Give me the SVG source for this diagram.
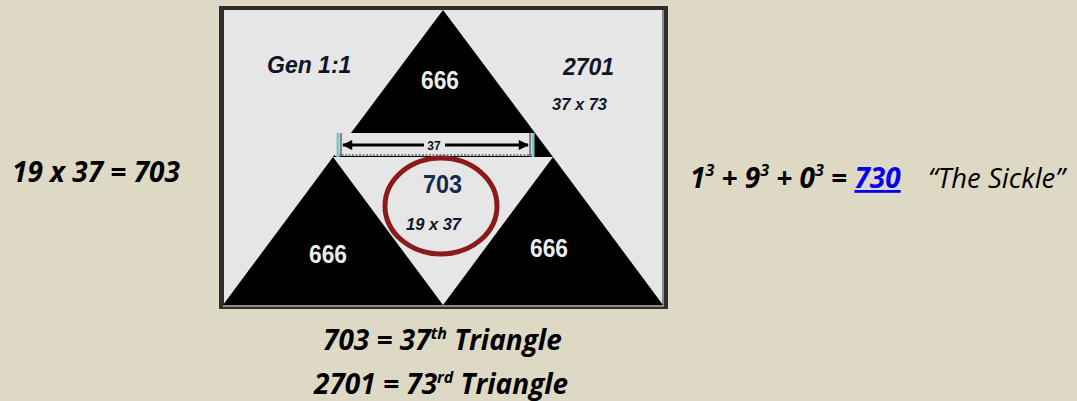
<svg xmlns="http://www.w3.org/2000/svg" width="1077" height="401" viewBox="0 0 1077 401">
<style>
.outer{font-family:"Open Sans","Noto Sans","Liberation Sans",sans-serif;font-weight:700;font-style:italic;font-size:28px;fill:#000}
.sup{font-size:16px}
.pic{font-family:"Liberation Sans",Arial,sans-serif;font-weight:700;font-style:italic;fill:#101426}
.num{font-family:"Liberation Sans",Arial,sans-serif;font-weight:700;font-size:25px;fill:#ececec}
.tri{fill:#000}
</style>
<defs>
<marker id="ah" viewBox="0 0 10 10" refX="9" refY="5" markerWidth="4" markerHeight="3.4" orient="auto-start-reverse" markerUnits="strokeWidth">
<path d="M0,0 L10,5 L0,10 Z" fill="#000"/>
</marker>
</defs>
<rect width="1077" height="401" fill="#DDD9C4"/>

<g id="frame">
<rect x="219" y="6" width="449" height="303" fill="#2e2e2e"/>
<rect x="224" y="10" width="440" height="296" fill="#E6E6E6"/>
<line x1="223" y1="306" x2="664" y2="306" stroke="#8a8a8a" stroke-width="2"/>
<line x1="663" y1="10" x2="663" y2="306" stroke="#8a8a8a" stroke-width="2"/>
</g>

<g id="triangle-top">
<polygon class="tri" points="443,10 333,157 553,157"/>
<text class="num" x="421" y="89" textLength="38" lengthAdjust="spacingAndGlyphs">666</text>
</g>
<g id="triangle-left">
<polygon class="tri" points="333,157 223,305 443,305"/>
<text class="num" x="309" y="263" textLength="38" lengthAdjust="spacingAndGlyphs">666</text>
</g>
<g id="triangle-right">
<polygon class="tri" points="553,157 443,305 663,305"/>
<text class="num" x="530" y="257" textLength="38" lengthAdjust="spacingAndGlyphs">666</text>
</g>

<g id="measure">
<rect x="335" y="133" width="199" height="23" fill="#E6E6E6"/>
<line x1="338" y1="155" x2="533" y2="155" stroke="#4a6a80" stroke-width="1.5" stroke-dasharray="2,1.5"/>
<line x1="338" y1="133" x2="338" y2="157" stroke="#84C6CC" stroke-width="3"/>
<line x1="533" y1="133" x2="533" y2="157" stroke="#84C6CC" stroke-width="3"/>
<line x1="341" y1="133" x2="341" y2="157" stroke="#222" stroke-width="1"/>
<line x1="530" y1="133" x2="530" y2="157" stroke="#222" stroke-width="1"/>
</g>
<g id="connectors">
<line x1="343" y1="145" x2="424" y2="145" stroke="#000" stroke-width="3" marker-start="url(#ah)"/>
<line x1="445" y1="145" x2="528" y2="145" stroke="#000" stroke-width="3" marker-end="url(#ah)"/>
</g>
<text x="434" y="149.5" text-anchor="middle" font-family="Liberation Sans, Arial, sans-serif" font-weight="700" font-size="12" fill="#111">37</text>

<g id="label-gen">
<text class="pic" x="267" y="73" font-size="23">Gen 1:1</text>
</g>
<g id="label-2701">
<text class="pic" x="563" y="75" font-size="23">2701</text>
<text class="pic" x="552" y="110" font-size="16.5">37 x 73</text>
</g>
<g id="label-703">
<text x="423" y="193" font-family="Liberation Sans, Arial, sans-serif" font-weight="700" font-size="25" fill="#1B2A48" textLength="39" lengthAdjust="spacingAndGlyphs">703</text>
<text class="pic" x="406" y="230" font-size="16.5">19 x 37</text>
<ellipse cx="441" cy="206" rx="56" ry="48" fill="none" stroke="#8B1A1A" stroke-width="5"/>
</g>

<g id="text-left">
<text class="outer" x="12" y="182">19 x 37 = 703</text>
</g>
<g id="text-right">
<text class="outer" x="690" y="188">1<tspan class="sup" dy="-12">3</tspan><tspan dy="12"> + 9</tspan><tspan class="sup" dy="-12">3</tspan><tspan dy="12"> + 0</tspan><tspan class="sup" dy="-12">3</tspan><tspan dy="12"> = </tspan><tspan fill="#0000EE" text-decoration="underline">730</tspan></text>
<text x="928" y="188" font-family="Open Sans, Noto Sans, Liberation Sans, sans-serif" font-style="italic" font-size="27.5" fill="#000">“The Sickle”</text>
</g>
<g id="text-bottom">
<text class="outer" x="323" y="350">703 = 37<tspan class="sup" dy="-11">th</tspan><tspan dy="11"> Triangle</tspan></text>
<text class="outer" x="314" y="394">2701 = 73<tspan class="sup" dy="-11">rd</tspan><tspan dy="11"> Triangle</tspan></text>
</g>
</svg>
